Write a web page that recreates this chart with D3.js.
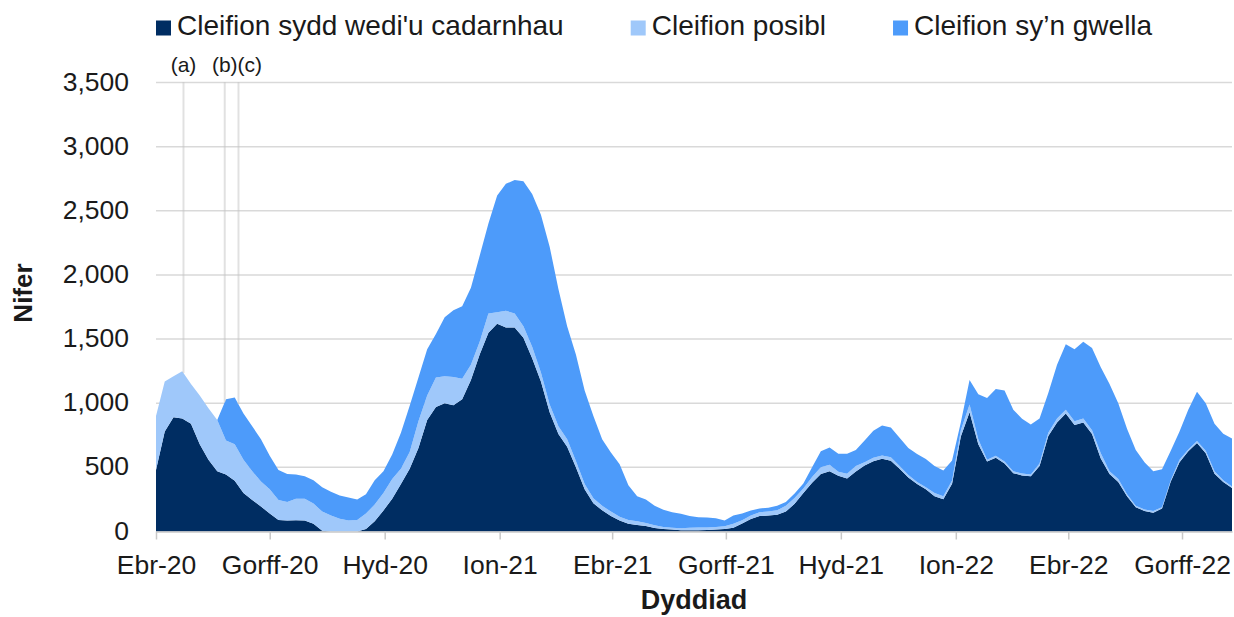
<!DOCTYPE html>
<html>
<head>
<meta charset="utf-8" />
<title>Cleifion</title>
<script src="https://d3js.org/d3.v7.min.js"></script>
<style>
body { margin: 0; background-color: #ffffff; }
text { font-family: "Liberation Sans", Arial, sans-serif; fill: #1a1a1a; }
</style>
</head>
<body>
<svg id="chart" width="1234" height="617">
  <g id="grid"></g>
  <g id="shapes"></g>
  <g id="notes"></g>
  <g id="x"></g>
  <g id="y"></g>
  <g id="legend"></g>
</svg>
<script>
// weekly readings, first point 1 Ebrill 2020
var startDate = new Date(2020, 3, 1);
var endDate = new Date(2022, 7, 10);

var seriesKeys = ["confirmed", "suspected", "recovering"];
var seriesNames = ["Cleifion sydd wedi'u cadarnhau", "Cleifion posibl", "Cleifion sy\u2019n gwella"];
var seriesColors = ["#002d62", "#9fc8fa", "#4d9bfa"];

var confirmed = [480, 780, 890, 880, 840, 680, 560, 470, 445, 395,
  300, 245, 195, 140, 90, 86, 88, 86, 60, 5,
  0, 0, 0, 0, 20, 80, 164, 255, 370, 490,
  650, 870, 970, 1000, 985, 1030, 1180, 1380, 1550, 1620,
  1590, 1590, 1510, 1350, 1170, 930, 760, 660, 500, 330,
  220, 165, 120, 85, 60, 50, 42, 28, 20, 15,
  10, 10, 10, 12, 15, 20, 30, 62, 98, 120,
  125, 130, 155, 216, 300, 380, 448, 470, 435, 413,
  468, 515, 548, 567, 552, 490, 420, 370, 330, 275,
  252, 372, 740, 930, 680, 545, 575, 530, 455, 437,
  430, 510, 745, 850, 920, 830, 850, 760, 570, 448,
  385, 275, 190, 160, 147, 180, 390, 540, 625, 690,
  610, 450, 385, 340];

var suspected = [420, 390, 320, 370, 310, 380, 400, 400, 265, 285,
  260, 225, 195, 190, 155, 144, 167, 169, 158, 150,
  125, 100, 86, 90, 120, 130, 136, 155, 120, 130,
  210, 190, 230, 210, 219, 160, 120, 100, 150, 90,
  130, 110, 90, 90, 70, 60, 60, 60, 50, 40,
  40, 35, 35, 30, 30, 30, 25, 20, 15, 15,
  15, 20, 22, 20, 20, 20, 30, 26, 26, 30,
  30, 35, 45, 45, 35, 45, 52, 50, 30, 37,
  42, 25, 26, 26, 26, 20, 20, 15, 15, 25,
  23, 26, 50, 60, 40, 15, 15, 15, 15, 15,
  15, 20, 25, 30, 30, 30, 30, 30, 40, 22,
  25, 15, 10, 12, 13, 10, 10, 20, 15, 15,
  20, 20, 15, 10];

var recovering = [0, 0, 0, 0, 0, 0, 0, 0, 320, 365,
  360, 350, 330, 260, 235, 218, 190, 175, 182, 190,
  185, 181, 179, 160, 150, 190, 170, 190, 280, 360,
  340, 360, 340, 460, 521, 565, 600, 670, 700, 910,
  990, 1040, 1130, 1190, 1230, 1230, 1070, 880, 830, 730,
  640, 520, 460, 410, 270, 195, 183, 152, 135, 120,
  113, 90, 80, 78, 68, 45, 65, 52, 40, 30,
  30, 35, 30, 35, 40, 75, 125, 135, 141, 156,
  125, 170, 211, 234, 232, 220, 210, 220, 220, 210,
  201, 156, 60, 190, 350, 480, 520, 555, 480, 427,
  390, 350, 310, 420, 510, 560, 600, 640, 670, 680,
  590, 510, 435, 368, 310, 295, 230, 220, 310, 385,
  370, 370, 362, 375];

var yTicks = [0, 500, 1000, 1500, 2000, 2500, 3000, 3500];
var xTickLabels = ["Ebr-20", "Gorff-20", "Hyd-20", "Ion-21", "Ebr-21",
  "Gorff-21", "Hyd-21", "Ion-22", "Ebr-22", "Gorff-22"];

var noteLabels = ["(a)", "(b)", "(c)"];
var noteDates = [new Date(2020, 3, 23), new Date(2020, 4, 26), new Date(2020, 5, 6)];

var margin = { top: 82.5, right: 2, bottom: 85.5, left: 156 };
var width = 1234;
var height = 617;

var svg = d3.select("#chart");

var data = confirmed.map(function(v, i) {
  return {
    date: d3.timeDay.offset(startDate, 7 * i),
    confirmed: v,
    suspected: suspected[i],
    recovering: recovering[i]
  };
});

var x = d3.scaleTime()
  .domain([startDate, endDate])
  .range([margin.left, width - margin.right]);

var y = d3.scaleLinear()
  .domain([0, 3500])
  .range([height - margin.bottom, margin.top]);

// gridlines
svg.select("#grid").selectAll("line")
  .data(yTicks.slice(1))
  .enter().append("line")
  .attr("x1", margin.left)
  .attr("x2", width - margin.right)
  .attr("y1", function(d) { return y(d); })
  .attr("y2", function(d) { return y(d); })
  .style("stroke", "#d9d9d9")
  .style("stroke-width", 1.5);

var stacked = d3.stack().keys(seriesKeys)(data);

var area = d3.area()
  .x(function(d) { return x(d.data.date); })
  .y0(function(d) { return y(d[0]); })
  .y1(function(d) { return y(d[1]); });

svg.select("#shapes").selectAll("path")
  .data(stacked)
  .enter().append("path")
  .attr("d", area)
  .style("fill", function(d, i) { return seriesColors[i]; });

// total at a date, for the note lines
function totalAt(date) {
  var i = d3.bisector(function(d) { return d.date; }).left(data, date);
  var a = data[Math.max(0, i - 1)], b = data[Math.min(data.length - 1, i)];
  var ta = a.confirmed + a.suspected + a.recovering;
  var tb = b.confirmed + b.suspected + b.recovering;
  if (a === b) return ta;
  var t = (date - a.date) / (b.date - a.date);
  return ta + (tb - ta) * t;
}

var notes = svg.select("#notes");
notes.selectAll("line")
  .data(noteDates)
  .enter().append("line")
  .attr("x1", function(d) { return x(d); })
  .attr("x2", function(d) { return x(d); })
  .attr("y1", y(3500))
  .attr("y2", function(d) { return y(totalAt(d)); })
  .style("stroke", "#c4c4c4")
  .style("stroke-width", 2)
  .style("stroke-dasharray", "1 1");

var prevEnd = -Infinity;
noteLabels.forEach(function(lab, i) {
  var t = notes.append("text")
    .attr("y", 72)
    .attr("font-size", "21px")
    .text(lab);
  var w = t.node().getComputedTextLength();
  var left = Math.max(x(noteDates[i]) - w / 2, prevEnd);
  t.attr("x", left);
  prevEnd = left + w;
});

// x axis
var tickDates = d3.timeMonth.every(3).range(startDate, endDate);
var xAxis = d3.axisBottom(x)
  .tickValues(tickDates)
  .tickSize(8)
  .tickSizeOuter(0)
  .tickFormat(function(d, i) { return xTickLabels[i]; });

var gx = svg.select("#x")
  .attr("transform", "translate(0," + y(0) + ")")
  .call(xAxis);
gx.select(".domain").style("stroke", "#c8c8c8").style("stroke-width", 1.5);
gx.selectAll(".tick line").style("stroke", "#c8c8c8").style("stroke-width", 1.5);
gx.selectAll(".tick text")
  .attr("y", 42)
  .attr("dy", 0)
  .attr("font-size", "26.5px")
  .attr("font-family", "Liberation Sans, Arial, sans-serif")
  .style("fill", "#1a1a1a");

// y labels
var fmt = d3.format(",");
svg.select("#y").selectAll("text")
  .data(yTicks)
  .enter().append("text")
  .attr("x", 129)
  .attr("y", function(d) { return y(d) + 8; })
  .attr("text-anchor", "end")
  .attr("font-size", "26.5px")
  .text(function(d) { return fmt(d); });

// axis titles
svg.append("text")
  .attr("transform", "translate(32," + 293 + ") rotate(-90)")
  .attr("text-anchor", "middle")
  .attr("font-size", "26px")
  .attr("font-weight", "bold")
  .text("Nifer");

svg.append("text")
  .attr("x", (margin.left + width - margin.right) / 2)
  .attr("y", 609)
  .attr("text-anchor", "middle")
  .attr("font-size", "27px")
  .attr("font-weight", "bold")
  .text("Dyddiad");

// legend
var legend = svg.select("#legend");
var lx = 156;
seriesNames.forEach(function(name, i) {
  legend.append("rect")
    .attr("x", lx)
    .attr("y", 20.5)
    .attr("width", 15)
    .attr("height", 15)
    .style("fill", seriesColors[i]);
  var t = legend.append("text")
    .attr("x", lx + 21)
    .attr("y", 35)
    .attr("font-size", "28px")
    .text(name);
  lx += 21 + t.node().getComputedTextLength() + 67;
});
</script>
</body>
</html>
